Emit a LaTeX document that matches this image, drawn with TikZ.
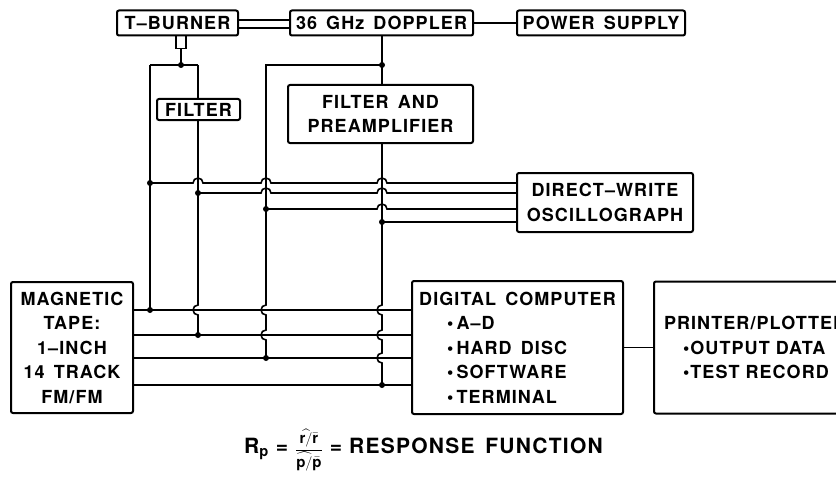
\documentclass[tikz,border=0pt]{standalone}
\usepackage{amsmath}
\usepackage{fontspec}
\newfontfamily\lbl[LetterSpace=6, WordSpace=1.5]{TeX Gyre Heros}
\usetikzlibrary{positioning, calc}
\tikzset{blk/.style={draw, line width=2pt, rounded corners=2pt, align=center, inner sep=0pt, font=\lbl\bfseries\fontsize{18}{24.5}\selectfont},
wire/.style={line width=1.6pt},
tapbox/.style={draw, line width=1.5pt, minimum width=10pt, minimum height=13pt, inner sep=0pt}}

\begin{document}
\begin{tikzpicture}[x=1pt, y=-1pt]
  \path[use as bounding box] (0,0) rectangle (836,487);
  \clip (0,0) rectangle (836,487);
  % top row
  \node[blk, minimum width=121pt, minimum height=25pt] (burner) at (177.5,23) {T\textendash BURNER};
  \node[blk, minimum width=183pt, minimum height=25pt] (doppler) at (381.5,23) {36 GHz DOPPLER};
  \node[blk, minimum width=168pt, minimum height=25pt] (power) at (601,23) {POWER SUPPLY};
  \node[tapbox, anchor=north] (tap) at (181,35) {};
  % filters
  \node[blk, minimum width=83pt, minimum height=21pt] (filt) at (198.5,109.5) {FILTER};
  \node[blk, minimum width=185pt, minimum height=58pt] (preamp) at (380.5,114) {FILTER AND\\PREAMPLIFIER};
  \node[blk, minimum width=176pt, minimum height=59pt] (osc) at (605,202.5) {DIRECT\textendash WRITE\\OSCILLOGRAPH};
  % recording and processing
  \node[blk, minimum width=122pt, minimum height=131pt] (tape) at (72,347.5) {MAGNETIC\\TAPE:\\1\textendash INCH\\14 TRACK\\FM/FM};
  \node[blk, align=left, minimum width=211pt, minimum height=133pt] (comp) at (517.5,347.5)
    {DIGITAL COMPUTER\\\hspace*{28pt}\textbullet\,A\textendash D\\\hspace*{28pt}\textbullet\,HARD DISC\\\hspace*{28pt}\textbullet\,SOFTWARE\\\hspace*{28pt}\textbullet\,TERMINAL};
  \node[blk, align=left, anchor=west, minimum width=247pt, minimum height=132pt, text width=227pt, inner xsep=10pt] (printer) at (653,347.5)
    {PRINTER/PLOTTER\\\hspace*{19pt}\textbullet OUTPUT DATA\\\hspace*{19pt}\textbullet TEST RECORD};
  % formula
  \node[inner sep=0pt, anchor=east] (resp) at (603,450)
    {\lbl\bfseries\fontsize{21}{24}\selectfont R\textsubscript{p}\hspace{7pt}=\hspace{7pt}{\fontsize{15}{17}\selectfont$\dfrac{\widehat{\text{r}/}\bar{\text{r}}}{\widehat{\text{p}/}\bar{\text{p}}}$}\hspace{7pt}=\hspace{7pt}RESPONSE FUNCTION};
  % junctions
  \coordinate (top) at (181,65);
  \coordinate (tl) at (150,65);
  \coordinate (tr) at (198,65);
  \coordinate (dj) at (382,65);
  \coordinate (dl) at (266,65);
  \coordinate (a1) at (150,183);
  \coordinate (b1) at (198,193);
  \coordinate (c1) at (266,209);
  \coordinate (d1) at (382,222);
  \coordinate (t1) at (150,310);
  \coordinate (t2) at (198,335);
  \coordinate (t3) at (266,358);
  \coordinate (t4) at (382,385);
  % top links
  \draw[wire] ([yshift=3pt]burner.east) -- ([yshift=3pt]doppler.west);
  \draw[wire] ([yshift=-5pt]burner.east) -- ([yshift=-5pt]doppler.west);
  \draw[wire] (doppler.east) -- (power.west);
  % T-burner tap
  \draw[wire] (tap.south) -- (top);
  \draw[wire] (tl) -- (tr);
  \draw[wire] (tr) -- (filt.north -| tr);
  \draw[wire] (tl) -- (t1);
  \draw[wire] (filt.south -| tr) -- (198,305) arc[start angle=90, end angle=270, radius=5pt] -- (t2);
  % doppler tap
  \draw[wire] (doppler.south -| dj) -- (preamp.north -| dj);
  \draw[wire] (dj) -- (dl) -- (266,305) arc[start angle=90, end angle=270, radius=5pt]
    -- (266,330) arc[start angle=90, end angle=270, radius=5pt] -- (t3);
  \draw[wire] (preamp.south -| dj) -- (382,305) arc[start angle=90, end angle=270, radius=5pt]
    -- (382,330) arc[start angle=90, end angle=270, radius=5pt]
    -- (382,353) arc[start angle=90, end angle=270, radius=5pt] -- (t4);
  % oscillograph feeds
  \draw[wire] (a1) -- (193,183) arc[start angle=180, end angle=0, radius=5pt]
    -- (261,183) arc[start angle=180, end angle=0, radius=5pt]
    -- (377,183) arc[start angle=180, end angle=0, radius=5pt] -- (osc.west |- a1);
  \draw[wire] (b1) -- (261,193) arc[start angle=180, end angle=0, radius=5pt]
    -- (377,193) arc[start angle=180, end angle=0, radius=5pt] -- (osc.west |- b1);
  \draw[wire] (c1) -- (377,209) arc[start angle=180, end angle=0, radius=5pt] -- (osc.west |- c1);
  \draw[wire] (d1) -- (osc.west |- d1);
  % tape tracks
  \foreach \t in {t1,t2,t3,t4}
    \draw[wire] (tape.east |- \t) -- (comp.west |- \t);
  \draw[wire] (comp.east) -- (printer.west);
  \foreach \p in {top,dj,a1,b1,c1,d1,t1,t2,t3,t4}
    \fill (\p) circle[radius=3pt];
\end{tikzpicture}
\end{document}
